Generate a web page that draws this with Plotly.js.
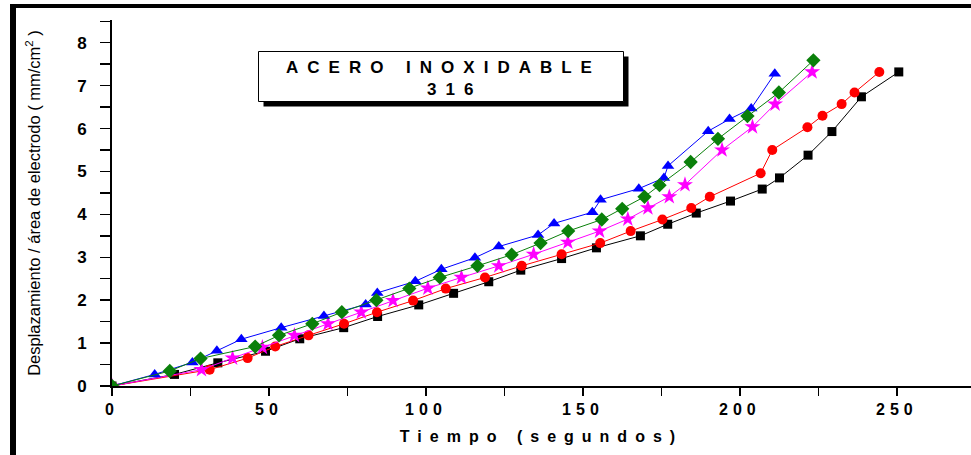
<!DOCTYPE html>
<html>
<head>
<meta charset="utf-8">
<script src="https://cdn.plot.ly/plotly-3.0.1.min.js"></script>
<style>
  html, body { margin: 0; padding: 0; background: #fff; }
  #chart { width: 971px; height: 455px; }
  .xtick text { letter-spacing: 5px; }
  .xtitle { letter-spacing: 8px; }
  .annotation-text { letter-spacing: 9px; }
</style>
</head>
<body>
<div id="chart"></div>
<script>
// Series (Tiempo in s, Desplazamiento/área in mm/cm²)
const xBlack = [0, 19.9, 33.7, 48.9, 59.8, 73.8, 84.6, 97.7, 108.8, 120.0, 130.2, 143.2, 154.3, 168.3, 177.0, 186.1, 197.0, 207.1, 212.6, 221.7, 229.3, 238.7, 250.6];
const yBlack = [0, 0.27, 0.54, 0.81, 1.10, 1.36, 1.62, 1.89, 2.16, 2.43, 2.70, 2.97, 3.22, 3.50, 3.77, 4.03, 4.31, 4.59, 4.85, 5.38, 5.93, 6.74, 7.32];

const xRed = [0, 31.1, 43.2, 52.0, 62.6, 73.9, 84.4, 95.9, 106.3, 118.8, 130.5, 143.2, 155.5, 165.2, 175.3, 184.5, 190.4, 206.6, 210.3, 221.5, 226.3, 232.4, 236.5, 244.4];
const yRed = [0, 0.38, 0.65, 0.92, 1.18, 1.45, 1.72, 1.99, 2.27, 2.53, 2.80, 3.07, 3.33, 3.61, 3.88, 4.15, 4.41, 4.96, 5.50, 6.03, 6.30, 6.57, 6.84, 7.32];

const xMagenta = [0, 28.5, 38.4, 47.9, 58.1, 68.8, 79.4, 89.5, 100.6, 111.3, 123.2, 134.3, 145.2, 155.3, 164.3, 170.7, 177.5, 182.5, 194.3, 204.0, 211.2, 223.0];
const yMagenta = [0, 0.38, 0.65, 0.90, 1.18, 1.45, 1.72, 1.99, 2.28, 2.53, 2.80, 3.07, 3.35, 3.61, 3.89, 4.15, 4.41, 4.69, 5.50, 6.04, 6.57, 7.32];

const xBlue = [0, 13.6, 25.6, 33.4, 41.2, 53.9, 67.5, 80.8, 84.5, 96.6, 104.9, 115.6, 123.2, 135.7, 140.8, 153.0, 155.6, 167.8, 175.8, 177.1, 189.9, 196.7, 203.6, 211.1];
const yBlue = [0, 0.27, 0.55, 0.82, 1.09, 1.36, 1.63, 1.90, 2.17, 2.44, 2.72, 2.99, 3.25, 3.52, 3.79, 4.05, 4.34, 4.60, 4.85, 5.13, 5.94, 6.22, 6.47, 7.28];

const xGreen = [0, 18.4, 28.2, 45.6, 53.2, 63.8, 73.2, 84.2, 94.7, 104.4, 116.4, 127.3, 136.5, 145.3, 156.0, 162.5, 169.6, 174.4, 184.3, 193.0, 202.4, 212.4, 223.4];
const yGreen = [0, 0.35, 0.64, 0.92, 1.18, 1.45, 1.72, 2.00, 2.27, 2.53, 2.80, 3.06, 3.33, 3.61, 3.88, 4.13, 4.41, 4.68, 5.22, 5.76, 6.29, 6.84, 7.59];

const titleLine1 = 'ACERO INOXIDABLE';
const titleLine2 = '316';
const xTitle = 'Tiempo (segundos)';
const yTitle = 'Desplazamiento / área de electrodo ( mm/cm<sup>2</sup> )';

function series(x, y, color, symbol, size) {
  return {
    x: x, y: y, type: 'scatter', mode: 'lines+markers',
    line: { color: color, width: 1 },
    marker: { color: color, symbol: symbol, size: size, line: { width: 0 } },
    showlegend: false, hoverinfo: 'x+y'
  };
}

const data = [
  series(xBlack, yBlack, '#000000', 'square', 9),
  series(xRed, yRed, '#ff0000', 'circle', 10),
  series(xMagenta, yMagenta, '#ff00ff', 'star', 12),
  series(xBlue, yBlue, '#0000ff', 'triangle-up', 11),
  series(xGreen, yGreen, '#0a800a', 'diamond', 11)
];

// pixel -> paper helpers for decoration placement
const ML = 112, MR = 0, MT = 20, MB = 69, W = 971, H = 455;
const PW = W - ML - MR, PH = H - MT - MB;
const px = v => (v - ML) / PW;
const py = v => (H - MB - v) / PH;

const font = 'Liberation Sans, Arial, sans-serif';

const layout = {
  width: W, height: H,
  margin: { l: ML, r: MR, t: MT, b: MB, pad: 0 },
  paper_bgcolor: 'rgba(0,0,0,0)',
  plot_bgcolor: '#ffffff',
  font: { family: font, color: '#000' },
  xaxis: {
    range: [0, 273.6],
    showline: true, linecolor: '#000', linewidth: 2,
    showgrid: false, zeroline: false,
    ticks: 'outside', ticklen: 8, tickwidth: 1.5, tickcolor: '#000',
    tickmode: 'linear', tick0: 0, dtick: 50,
    minor: { dtick: 25, ticks: 'outside', ticklen: 8, tickwidth: 1.5, tickcolor: '#000', showgrid: false },
    tickfont: { family: font, size: 16, weight: 'bold', color: '#000' },
    title: { text: xTitle, font: { family: font, size: 16, weight: 'bold', color: '#000' }, standoff: 14 }
  },
  yaxis: {
    range: [0, 8.53],
    showline: true, linecolor: '#000', linewidth: 2,
    showgrid: false, zeroline: false,
    ticks: 'outside', ticklen: 10, tickwidth: 1.5, tickcolor: '#000',
    ticklabelstandoff: 10,
    tickmode: 'linear', tick0: 0, dtick: 1,
    minor: { dtick: 0.5, ticks: 'outside', ticklen: 10, tickwidth: 1.5, tickcolor: '#000', showgrid: false },
    tickfont: { family: font, size: 17, weight: 'bold', color: '#000' },
    title: { text: yTitle, font: { family: font, size: 16.5, color: '#000' }, standoff: 32 }
  },
  shapes: [
    // outer frame (left and top heavy borders)
    { type: 'rect', xref: 'paper', yref: 'paper', x0: px(10), x1: px(16), y0: py(455), y1: py(4), fillcolor: '#000', line: { width: 0 }, layer: 'above' },
    { type: 'rect', xref: 'paper', yref: 'paper', x0: px(10), x1: px(971), y0: py(8), y1: py(4), fillcolor: '#000', line: { width: 0 }, layer: 'above' },
    // title box shadow and box
    { type: 'rect', xref: 'paper', yref: 'paper', x0: px(263.5), x1: px(628.5), y0: py(106.5), y1: py(56.5), fillcolor: '#000', line: { width: 0 }, layer: 'above' },
    { type: 'rect', xref: 'paper', yref: 'paper', x0: px(258.5), x1: px(623.5), y0: py(101.5), y1: py(51.5), fillcolor: '#fff', line: { color: '#000', width: 1 }, layer: 'above' }
  ],
  annotations: [
    { xref: 'paper', yref: 'paper', x: px(443), y: py(67), xanchor: 'center', yanchor: 'middle', showarrow: false,
      text: titleLine1, font: { family: font, size: 17, weight: 'bold', color: '#000' } },
    { xref: 'paper', yref: 'paper', x: px(454), y: py(89), xanchor: 'center', yanchor: 'middle', showarrow: false,
      text: titleLine2, font: { family: font, size: 17, weight: 'bold', color: '#000' } }
  ]
};

Plotly.newPlot('chart', data, layout, { staticPlot: true, displayModeBar: false });
</script>
</body>
</html>
